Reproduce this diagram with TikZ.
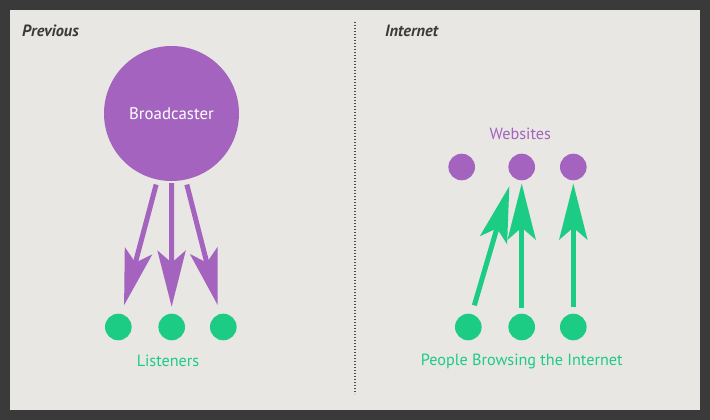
\documentclass[tikz,border=0pt]{standalone}
\usepackage{fontspec}
\setmainfont{PT Sans}
\usepackage{xcolor}
\usepackage{tikz}
\usetikzlibrary{arrows.meta, positioning}
\definecolor{bgpaper}{HTML}{E8E7E3}
\definecolor{frame}{HTML}{3A3A3A}
\definecolor{violet}{HTML}{A463BE}
\definecolor{mint}{HTML}{1CCC84}

\begin{document}
\begin{tikzpicture}[x=1pt, y=-1pt,
    dot/.style={circle, inner sep=0pt, minimum size=26.6pt},
    headline/.style={font=\bfseries\itshape\fontsize{16.3}{18}\selectfont, text=frame, anchor=base west, inner sep=0pt},
    caption/.style={font=\fontsize{16.2}{18}\selectfont},
    push/.style={line width=5pt, draw=#1, -{Stealth[length=56pt, width=28pt, inset=12pt]}}]
      % Frame
      \fill[frame] (0,0) rectangle (710,420);
      \fill[bgpaper] (10,10) rectangle (700,410);
      \useasboundingbox (0,0) rectangle (710,420);
      \draw[gray!60!black, line width=1.4pt, dash pattern=on 1.2pt off 1.8pt] (355,22) -- (355,394);

      % Previous
      \node[headline] (prev) at (22,37) {Previous};
      \node[dot, fill=violet, minimum size=135pt] (bc) at (171.5,113.5) {};
      \node[text=white, font=\fontsize{16.8}{18}\selectfont] at (bc) {Broadcaster};
      \node[dot, fill=mint] (l1) at (118.3,327) {};
      \node[dot, fill=mint] (l2) at (171.7,327) {};
      \node[dot, fill=mint] (l3) at (223.3,327) {};
      \node[caption, text=mint] (lis) at (168,361) {Listeners};
      \draw[push=violet, shorten <=5pt, shorten >=9pt] (bc.258) -- (l1);
      \draw[push=violet, shorten <=2pt, shorten >=6.7pt] (bc.270) -- (l2);
      \draw[push=violet, shorten <=5pt, shorten >=9pt] (bc.282) -- (l3);

      % Internet
      \node[headline] (inet) at (385,37) {Internet};
      \node[caption, text=violet] (web) at (520.3,134) {Websites};
      \node[dot, fill=violet] (w1) at (461.7,167) {};
      \node[dot, fill=violet] (w2) at (521.7,167) {};
      \node[dot, fill=violet] (w3) at (573.3,167) {};
      \node[dot, fill=mint] (p1) at (468.3,327) {};
      \node[dot, fill=mint] (p2) at (521.7,327) {};
      \node[dot, fill=mint] (p3) at (573.3,327) {};
      \node[caption, text=mint] (ppl) at (521.7,361) {People Browsing the Internet};
      \draw[push=mint, shorten <=9pt, shorten >=10pt] (p1.75) -- (w2.225);
      \draw[push=mint, shorten <=5.7pt, shorten >=3pt] (p2) -- (w2);
      \draw[push=mint, shorten <=7pt, shorten >=3pt] (p3) -- (w3);
    \end{tikzpicture}
\end{document}
